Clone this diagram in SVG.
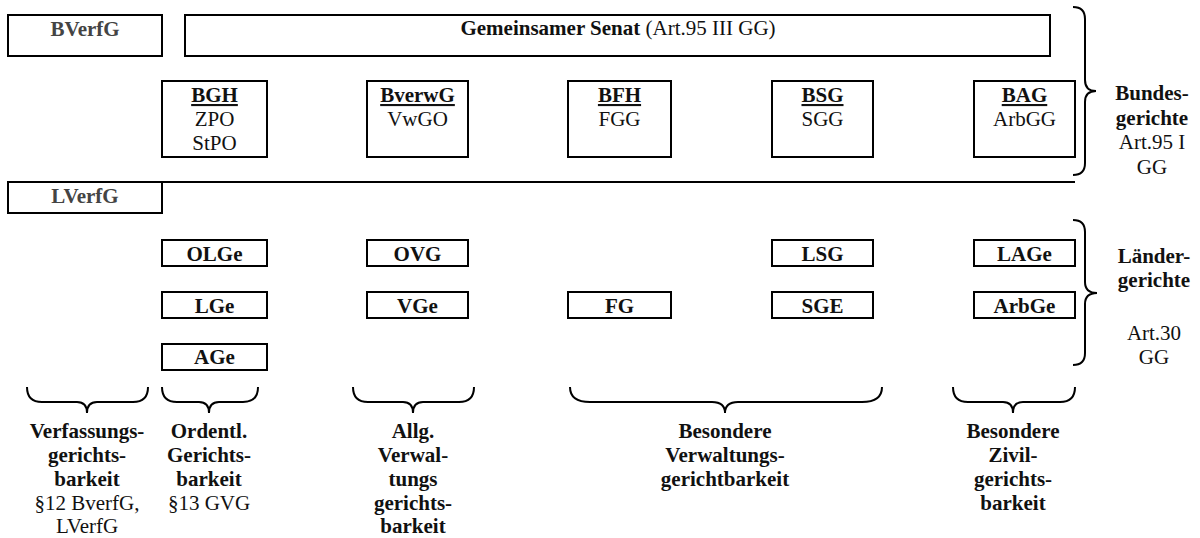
<svg xmlns="http://www.w3.org/2000/svg" width="1200" height="538" viewBox="0 0 1200 538" font-family="Liberation Serif, DejaVu Serif, serif">
<style>
.box{fill:#fff;stroke:#000;stroke-width:2}
.t{font-family:'Liberation Serif','DejaVu Serif',serif;font-size:21px;fill:#111;text-anchor:middle}
.b{font-weight:bold}
.g{fill:#444}
.u{text-decoration:underline}
.br{fill:none;stroke:#000;stroke-width:2}
.ln{stroke:#000;stroke-width:2}
</style>
<rect width="1200" height="538" fill="#fff"/>
<g id="bverfg"><rect class="box" x="8" y="15" width="154" height="41"/><text class="t b g" x="85" y="36">BVerfG</text></g>
<g id="senat"><rect class="box" x="185" y="15" width="865" height="41"/><text class="t" x="618" y="35"><tspan class="b">Gemeinsamer Senat</tspan> (Art.95 III GG)</text></g>
<g id="bgh"><rect class="box" x="162" y="81" width="105" height="76"/><text class="t b u" x="214.5" y="102">BGH</text><text class="t" x="214.5" y="126">ZPO</text><text class="t" x="214.5" y="150">StPO</text></g>
<g id="bverwg"><rect class="box" x="367" y="81" width="101" height="76"/><text class="t b u" x="417.5" y="102">BverwG</text><text class="t" x="417.5" y="126">VwGO</text></g>
<g id="bfh"><rect class="box" x="568" y="81" width="103" height="76"/><text class="t b u" x="619.5" y="102">BFH</text><text class="t" x="619.5" y="126">FGG</text></g>
<g id="bsg"><rect class="box" x="772" y="81" width="101" height="76"/><text class="t b u" x="822.5" y="102">BSG</text><text class="t" x="822.5" y="126">SGG</text></g>
<g id="bag"><rect class="box" x="974" y="81" width="101" height="76"/><text class="t b u" x="1024.5" y="102">BAG</text><text class="t" x="1024.5" y="126">ArbGG</text></g>
<g id="lverfg"><rect class="box" x="8" y="182" width="154" height="31"/><text class="t b g" x="85" y="203">LVerfG</text></g>
<g id="olge"><rect class="box" x="162" y="240" width="105" height="26"/><text class="t b" x="214.5" y="261">OLGe</text></g>
<g id="lge"><rect class="box" x="162" y="292" width="105" height="26"/><text class="t b" x="214.5" y="313">LGe</text></g>
<g id="age"><rect class="box" x="162" y="344" width="105" height="26"/><text class="t b" x="214.5" y="364">AGe</text></g>
<g id="ovg"><rect class="box" x="367" y="240" width="101" height="26"/><text class="t b" x="417.5" y="261">OVG</text></g>
<g id="vge"><rect class="box" x="367" y="292" width="101" height="26"/><text class="t b" x="417.5" y="313">VGe</text></g>
<g id="fg"><rect class="box" x="568" y="292" width="103" height="26"/><text class="t b" x="619.5" y="313">FG</text></g>
<g id="lsg"><rect class="box" x="772" y="240" width="101" height="26"/><text class="t b" x="822.5" y="261">LSG</text></g>
<g id="sge"><rect class="box" x="772" y="292" width="101" height="26"/><text class="t b" x="822.5" y="313">SGE</text></g>
<g id="lage"><rect class="box" x="974" y="240" width="101" height="26"/><text class="t b" x="1024.5" y="261">LAGe</text></g>
<g id="arbge"><rect class="box" x="974" y="292" width="101" height="26"/><text class="t b" x="1024.5" y="313">ArbGe</text></g>
<g id="connectors">
<line class="ln" x1="162" y1="182" x2="1075" y2="182"/>
<path class="br" d="M1073,7 Q1085,7 1085,19 L1085,80 Q1085,91 1096,91 Q1085,91 1085,102 L1085,163 Q1085,175 1073,175"/>
<path class="br" d="M1073,220 Q1085,220 1085,232 L1085,282 Q1085,293 1097,293 Q1085,293 1085,304 L1085,353 Q1085,365 1073,365"/>
<path class="br" d="M27,387 Q27,402 42,402 L77,402 Q87,402 87,413 Q87,402 97,402 L133,402 Q148,402 148,387"/>
<path class="br" d="M162,387 Q162,402 177,402 L199,402 Q209,402 209,413 Q209,402 219,402 L243,402 Q258,402 258,387"/>
<path class="br" d="M353,387 Q353,402 368,402 L403,402 Q413,402 413,413 Q413,402 423,402 L459,402 Q474,402 474,387"/>
<path class="br" d="M570,387 Q570,402 590,402 L712,402 Q725,402 725,413 Q725,402 738,402 L862,402 Q882,402 882,387"/>
<path class="br" d="M953,387 Q953,402 968,402 L1003,402 Q1013,402 1013,413 Q1013,402 1023,402 L1060,402 Q1075,402 1075,387"/>
</g>
<g id="labels">
<text class="t b" x="1152" y="100">Bundes-</text>
<text class="t b" x="1152" y="125">gerichte</text>
<text class="t" x="1152" y="149">Art.95 I</text>
<text class="t" x="1152" y="174">GG</text>
<text class="t b" x="1154" y="263">Länder-</text>
<text class="t b" x="1154" y="287">gerichte</text>
<text class="t" x="1154" y="340">Art.30</text>
<text class="t" x="1154" y="364">GG</text>
<text class="t b" x="87" y="438">Verfassungs-</text>
<text class="t b" x="87" y="462">gerichts-</text>
<text class="t b" x="87" y="486">barkeit</text>
<text class="t" x="87" y="510">§12 BverfG,</text>
<text class="t" x="87" y="533">LVerfG</text>
<text class="t b" x="209" y="438">Ordentl.</text>
<text class="t b" x="209" y="462">Gerichts-</text>
<text class="t b" x="209" y="486">barkeit</text>
<text class="t" x="209" y="510">§13 GVG</text>
<text class="t b" x="413" y="438">Allg.</text>
<text class="t b" x="413" y="462">Verwal-</text>
<text class="t b" x="413" y="486">tungs</text>
<text class="t b" x="413" y="510">gerichts-</text>
<text class="t b" x="413" y="533">barkeit</text>
<text class="t b" x="725" y="438">Besondere</text>
<text class="t b" x="725" y="462">Verwaltungs-</text>
<text class="t b" x="725" y="486">gerichtbarkeit</text>
<text class="t b" x="1013" y="438">Besondere</text>
<text class="t b" x="1013" y="462">Zivil-</text>
<text class="t b" x="1013" y="486">gerichts-</text>
<text class="t b" x="1013" y="510">barkeit</text>
</g>
</svg>
